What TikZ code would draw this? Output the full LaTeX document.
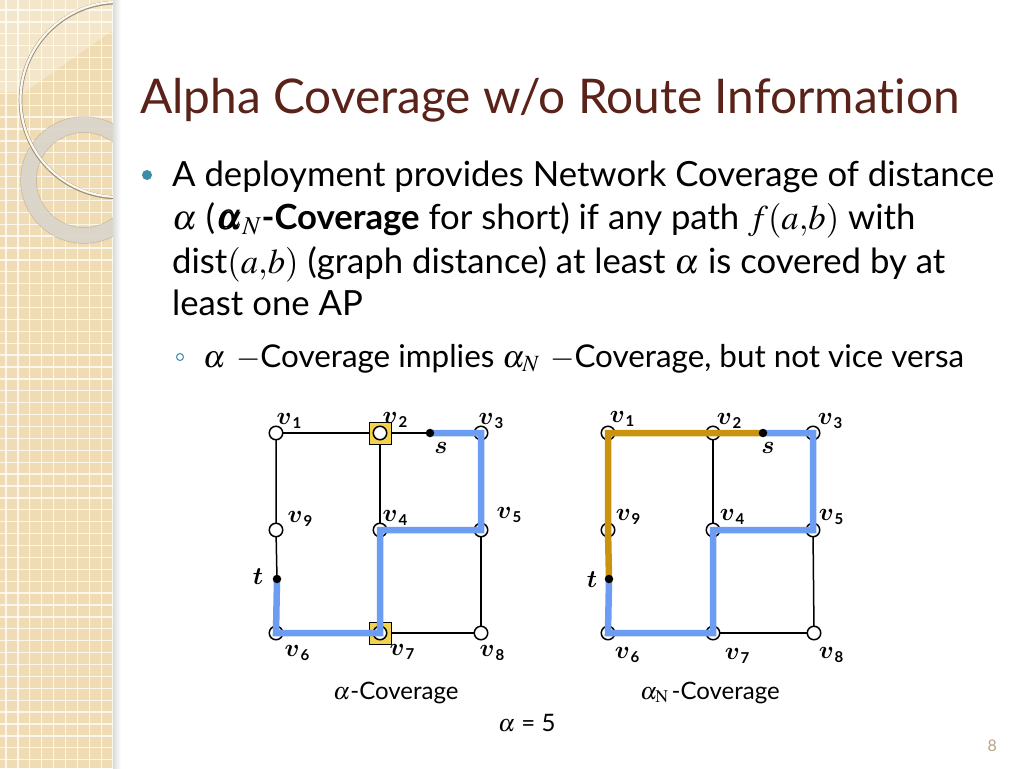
\documentclass[tikz,border=0pt]{standalone}
\usepackage{mathptmx}
\usepackage{bm}
\usepackage[no-math]{fontspec}
\setmainfont{Lato}[Ligatures=NoCommon]
\DeclareMathAlphabet{\mathcmb}{OML}{cmm}{b}{it}
\pgfdeclarelayer{back}\pgfdeclarelayer{bg}\pgfdeclarelayer{fg}\pgfdeclarelayer{top}
\pgfsetlayers{back,bg,main,fg,top}
\definecolor{panel}{HTML}{EFDCB4}
\definecolor{ringgrey}{HTML}{DEDAD2}
\definecolor{titlec}{HTML}{5A2218}
\definecolor{tealc}{HTML}{3A8DA6}
\definecolor{pathblue}{HTML}{6C9DF2}
\definecolor{pathgold}{HTML}{C9930F}
\definecolor{apyellow}{HTML}{F4D34C}
\definecolor{pagec}{HTML}{B5A684}
\newcommand{\vl}[1]{$\mathcmb{v}$\kern0.8pt\raisebox{-3.5pt}{\fontsize{15}{15}\selectfont\bfseries #1}}
\tikzset{
  vert/.style={circle, draw, fill=white, line width=1.5pt, minimum size=13.5pt, inner sep=0pt},
  dotn/.style={circle, fill=black, minimum size=8.5pt, inner sep=0pt},
  apbox/.style={rectangle, draw, fill=apyellow, line width=1pt, minimum size=22pt, inner sep=0pt},
  edgeline/.style={line width=1.5pt, black},
  bluep/.style={line width=6.5pt, pathblue, line join=miter, line cap=butt},
  goldp/.style={line width=6.5pt, pathgold, line join=miter, line cap=butt},
  lab/.style={font=\fontsize{24}{24}\selectfont, inner sep=0pt},
  bodytext/.style={anchor=base west, inner sep=0pt, font=\fontsize{34.7}{40}\selectfont},
  captext/.style={anchor=base west, inner sep=0pt, font=\fontsize{24}{28}\selectfont},
}
\begin{document}
\begin{tikzpicture}[x=1pt,y=-1pt]
\useasboundingbox (0,0) rectangle (1024,768);
\begin{pgfonlayer}{back}
\fill[white] (0,0) rectangle (1024,768);
% ---- left decorative panel ----
\begin{scope}
  \clip (0,0) rectangle (113,768);
  \fill[panel] (0,0) rectangle (113,768);
  \foreach \i in {0,...,9} \draw[white, line width=1.3pt, opacity=0.75] (6+11.9*\i,0) -- (6+11.9*\i,768);
  \foreach \i in {0,...,64} \draw[white, line width=1.3pt, opacity=0.75] (0,10+11.9*\i) -- (113,10+11.9*\i);
  \fill[white, opacity=0.3] (0,0) -- (113,0) -- (113,30) -- (25,92) -- (0,92) -- cycle;
  \draw[draw=black!30!panel, line width=16.5pt, opacity=0.5] (84,180) circle (55.5);
  \draw[draw=ringgrey, line width=15pt, opacity=0.85] (84,180) circle (55.5);
  \draw[draw=black!35!panel, line width=3.6pt] (118,100) circle (97.5);
  \draw[draw=white!80!panel, line width=2.2pt] (118,99.4) circle (97.5);
\end{scope}
\shade[left color=black!14, right color=white] (113,0) rectangle (121,768);
\end{pgfonlayer}
% ---- title and text ----
\node[anchor=base west, inner sep=0pt, text=titlec, font=\fontsize{47.8}{56}\selectfont] (title) at (140,113) {Alpha Coverage w/o Route Information};
\node[circle, fill=tealc, minimum size=10pt, inner sep=0pt] (b1) at (147,175) {};
\node[bodytext] (l1) at (172,186) {A deployment provides Network Coverage of distance};
\node[bodytext] (l2) at (172,229) {$\alpha$ (\kern1pt\textbf{$\bm{\alpha}_N$-Coverage} for short) if any path $f(a{,}b)$ with};
\node[bodytext] (l3) at (172,273) {dist$(a{,}b)$ (graph distance) at least $\alpha$ is covered by at};
\node[bodytext] (l4) at (172,315) {least one AP};
\node[circle, draw=tealc, line width=1pt, minimum size=7pt, inner sep=0pt] (b2) at (180,357) {};
\node[bodytext, font=\fontsize{31.4}{38}\selectfont] (l5) at (203,367) {$\alpha$\,\,$-$Coverage implies $\alpha_N$\,\,$-$Coverage, but not vice versa};
% ---- left graph ----
\node[apbox] (A2) at (380,433) {};
\node[apbox] (A7) at (380,633) {};
\node[vert] (L1) at (276,433) {};
\node[vert] (L2) at (380,433) {};
\node[vert] (L3) at (481,433) {};
\node[vert] (L9) at (276,530) {};
\node[vert] (L4) at (380,530) {};
\node[vert] (L5) at (481,530) {};
\node[vert] (L6) at (276,633) {};
\node[vert] (L7) at (380,633) {};
\node[vert] (L8) at (481,633) {};
\begin{pgfonlayer}{top}
\node[dotn] (Ls) at (430,433) {};
\node[dotn] (Lt) at (277,579) {};
\end{pgfonlayer}
\node[lab] (lL1) at (289,421) {\vl{1}};
\node[lab] (lL2) at (395,420) {\vl{2}};
\node[lab] (lL3) at (491,421) {\vl{3}};
\node[lab] (lL9) at (300,519) {\vl{9}};
\node[lab] (lL4) at (395,518) {\vl{4}};
\node[lab] (lL5) at (509,515) {\vl{5}};
\node[lab] (lL6) at (297,653) {\vl{6}};
\node[lab] (lL7) at (402,652) {\vl{7}};
\node[lab] (lL8) at (492,653) {\vl{8}};
\node[lab] (lLs) at (441,448) {$\mathcmb{s}$};
\node[lab] (lLt) at (258,577) {$\mathcmb{t}$};
\begin{pgfonlayer}{bg}
\draw[edgeline] (L1.center) -- (L2.center) -- (Ls.center);
\draw[edgeline] (L1.center) -- (L9.center) -- (Lt.center);
\draw[edgeline] (L2.center) -- (L4.center);
\draw[edgeline] (L5.center) -- (L8.center);
\draw[edgeline] (L7.center) -- (L8.center);
\end{pgfonlayer}
\begin{pgfonlayer}{fg}
\draw[bluep] (Ls.center) -- (L3.center) -- (L5.center) -- (L4.center) -- (L7.center) -- (L6.center) -- (Lt.center);
\end{pgfonlayer}
% ---- right graph ----
\node[vert] (R1) at (608,433) {};
\node[vert] (R2) at (713,433) {};
\node[vert] (R3) at (813,433) {};
\node[vert] (R9) at (608,530) {};
\node[vert] (R4) at (713,530) {};
\node[vert] (R5) at (813,530) {};
\node[vert] (R6) at (608,633) {};
\node[vert] (R7) at (713,633) {};
\node[vert] (R8) at (814,633) {};
\begin{pgfonlayer}{top}
\node[dotn] (Rs) at (763,433) {};
\node[dotn] (Rt) at (609,579) {};
\end{pgfonlayer}
\node[lab] (lR1) at (622,419) {\vl{1}};
\node[lab] (lR2) at (729,421) {\vl{2}};
\node[lab] (lR3) at (830,421) {\vl{3}};
\node[lab] (lR9) at (628,517) {\vl{9}};
\node[lab] (lR4) at (732,517) {\vl{4}};
\node[lab] (lR5) at (831,517) {\vl{5}};
\node[lab] (lR6) at (627,655) {\vl{6}};
\node[lab] (lR7) at (737,656) {\vl{7}};
\node[lab] (lR8) at (831,655) {\vl{8}};
\node[lab] (lRs) at (768,448) {$\mathcmb{s}$};
\node[lab] (lRt) at (592,580) {$\mathcmb{t}$};
\begin{pgfonlayer}{bg}
\draw[edgeline] (R2.center) -- (R4.center);
\draw[edgeline] (R5.center) -- (R8.center);
\draw[edgeline] (R7.center) -- (R8.center);
\end{pgfonlayer}
\begin{pgfonlayer}{fg}
\draw[goldp] (Rs.center) -- (R2.center) -- (R1.center) -- (R9.center) -- (Rt.center);
\draw[bluep] (Rs.center) -- (R3.center) -- (R5.center) -- (R4.center) -- (R7.center) -- (R6.center) -- (Rt.center);
\end{pgfonlayer}
% ---- captions ----
\node[captext] (c1) at (333,699) {$\alpha$-Coverage};
\node[captext] (c2) at (640,699) {$\alpha_{\mathrm{N}}$\kern3pt-Coverage};
\node[captext] (c3) at (498,731) {$\alpha$ = 5};
\node[anchor=base east, inner sep=0pt, text=pagec, font=\fontsize{16}{18}\selectfont] (pg) at (997,751) {8};
\end{tikzpicture}
\end{document}
